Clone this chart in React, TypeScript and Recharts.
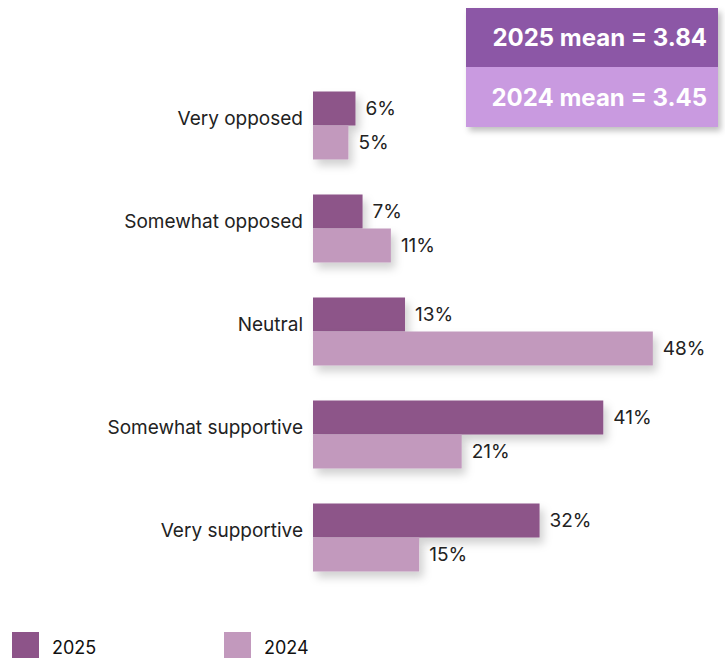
import React from 'react';
import { BarChart, Bar, XAxis, YAxis, LabelList, Rectangle } from 'recharts';

const categories = ['Very opposed', 'Somewhat opposed', 'Neutral', 'Somewhat supportive', 'Very supportive'];
const values2025 = [6, 7, 13, 41, 32];
const values2024 = [5, 11, 48, 21, 15];
const seriesNames = ['2025', '2024'];
const meanValues = [3.84, 3.45];

const COLOR_2025 = '#8d5489';
const COLOR_2024 = '#c299bd';
const BOX_2025 = '#8c57a6';
const BOX_2024 = '#c99ae0';
const FONT = 'Inter, "Noto Sans", sans-serif';

const data = categories.map((name, i) => ({
  name,
  y2025: values2025[i],
  y2024: values2024[i],
}));

const ShadowBar = (props: any) => <Rectangle {...props} filter="url(#barShadow)" />;

export default function App() {
  return (
    <div style={{ position: 'absolute', left: 0, top: 0, width: 725, height: 658, background: '#fff', fontFamily: FONT, overflow: 'hidden' }}>
      <BarChart
        width={725}
        height={658}
        data={data}
        layout="vertical"
        margin={{ top: 73.5, right: 58, bottom: 69.5, left: 0 }}
        barSize={34}
        barGap={0}
      >
        <defs>
          <filter id="barShadow" x="-20%" y="-50%" width="150%" height="220%">
            <feDropShadow dx="4" dy="6" stdDeviation="4" floodColor="#000" floodOpacity="0.18" />
          </filter>
        </defs>
        <XAxis type="number" domain={[0, 50]} hide />
        <YAxis
          type="category"
          dataKey="name"
          width={313}
          axisLine={false}
          tickLine={false}
          tickMargin={4}
          tick={{ fontSize: 19, fill: '#222', fontFamily: FONT, dy: -7 }}
        />
        <Bar dataKey="y2025" name={seriesNames[0]} fill={COLOR_2025} shape={<ShadowBar />} isAnimationActive={false}>
          <LabelList dataKey="y2025" position="right" offset={10} formatter={(v: any) => `${v}%`} fill="#222" fontSize={19} fontFamily={FONT} />
        </Bar>
        <Bar dataKey="y2024" name={seriesNames[1]} fill={COLOR_2024} shape={<ShadowBar />} isAnimationActive={false}>
          <LabelList dataKey="y2024" position="right" offset={10} formatter={(v: any) => `${v}%`} fill="#222" fontSize={19} fontFamily={FONT} />
        </Bar>
      </BarChart>
      {[COLOR_2025, COLOR_2024].map((c, i) => (
        <div key={i} style={{ position: 'absolute', left: i === 0 ? 12 : 224, top: 632, display: 'flex', alignItems: 'center' }}>
          <div style={{ width: 27, height: 26, background: c }} />
          <span style={{ marginLeft: 13, fontSize: 18, color: '#111', marginTop: 4 }}>{seriesNames[i]}</span>
        </div>
      ))}
      <div style={{ position: 'absolute', left: 466, top: 8, width: 252, boxShadow: '3px 4px 6px rgba(0,0,0,0.25)' }}>
        {[BOX_2025, BOX_2024].map((bg, i) => (
          <div
            key={i}
            style={{
              background: bg,
              height: i === 0 ? 59 : 60,
              display: 'flex',
              alignItems: 'center',
              justifyContent: 'flex-end',
              paddingRight: 11,
              color: '#fff',
              fontWeight: 700,
              fontSize: 24,
            }}
          >
            {`${seriesNames[i]} mean = ${meanValues[i].toFixed(2)}`}
          </div>
        ))}
      </div>
    </div>
  );
}
